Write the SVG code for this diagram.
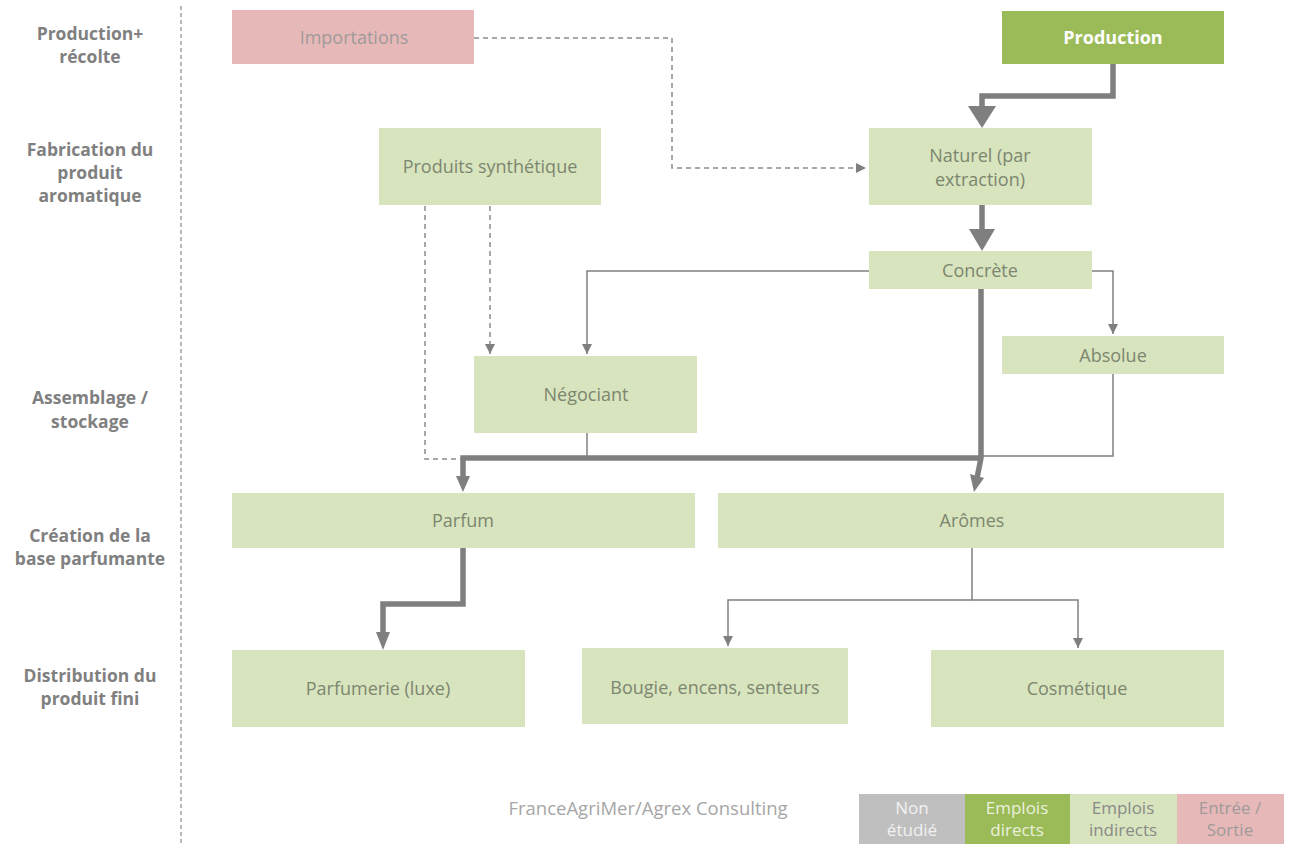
<svg xmlns="http://www.w3.org/2000/svg" width="1294" height="846" viewBox="0 0 1294 846">
<defs>
<style>
.lbl{font-family:"Open Sans","Liberation Sans",sans-serif;font-weight:bold;font-size:17.5px;fill:#808080;text-anchor:middle}
.g{fill:#d7e4bd}
.pk{fill:#e6b9b8}
.dg{fill:#9bbb59}
.gr{fill:#bfbfbf}
.t{font-family:"Open Sans","Liberation Sans",sans-serif;font-size:18px;fill:#7d8670;text-anchor:middle}
.tw{font-family:"Open Sans","Liberation Sans",sans-serif;font-size:18px;font-weight:bold;fill:#ffffff;text-anchor:middle}
.lg{font-family:"Open Sans","Liberation Sans",sans-serif;font-size:17px;text-anchor:middle}
.thin{fill:none;stroke:#808080;stroke-width:1.5}
.dash{fill:none;stroke:#8c8c8c;stroke-width:1.5;stroke-dasharray:5 4}
.thick{fill:none;stroke:#7f7f7f;stroke-width:5.5}
</style>
<marker id="ah" viewBox="0 0 10 10" refX="10" refY="5" markerWidth="10" markerHeight="10" markerUnits="userSpaceOnUse" orient="auto"><path d="M0,0 L10,5 L0,10 z" fill="#7f7f7f"/></marker>
</defs>
<rect width="1294" height="846" fill="#ffffff"/>

<g id="stages">
<line x1="181" y1="6" x2="181" y2="846" stroke="#8c8c8c" stroke-width="1.2" stroke-dasharray="4 3"/>
<text class="lbl" x="90" y="40">Production+</text>
<text class="lbl" x="90" y="63">récolte</text>
<text class="lbl" x="90" y="156">Fabrication du</text>
<text class="lbl" x="90" y="179">produit</text>
<text class="lbl" x="90" y="202">aromatique</text>
<text class="lbl" x="90" y="404">Assemblage /</text>
<text class="lbl" x="90" y="428">stockage</text>
<text class="lbl" x="90" y="542">Création de la</text>
<text class="lbl" x="90" y="565">base parfumante</text>
<text class="lbl" x="90" y="682">Distribution du</text>
<text class="lbl" x="90" y="705">produit fini</text>
</g>

<g id="connectors">
<path class="dash" d="M474,38 H672 V168 H866" marker-end="url(#ah)"/>
<path class="thick" d="M1113,64 V96 H982 V110"/>
<path d="M968,106 L996,106 L982,128 z" fill="#7f7f7f"/>
<path class="thick" d="M982,205 V232"/>
<path d="M969,229 L995,229 L982,251 z" fill="#7f7f7f"/>
<path class="thin" d="M869,271 H587 V354" marker-end="url(#ah)"/>
<path class="thin" d="M1092,271 H1113 V334" marker-end="url(#ah)"/>
<path class="dash" d="M490,206 V354" marker-end="url(#ah)"/>
<path class="dash" d="M425,206 V459 H463"/>
<path class="thin" d="M587,433 V457"/>
<path class="thin" d="M1113,374 V456 H981"/>
<path class="thick" d="M463,478 V458 H981"/>
<path d="M456,476 L470,476 L463,492 z" fill="#7f7f7f"/>
<path class="thick" d="M981,289 V458 L977,478"/>
<path d="M970,474 L984,478 L974,492 z" fill="#7f7f7f"/>
<path class="thick" d="M463,548 V604 H383 V634"/>
<path d="M376,632 L390,632 L383,650 z" fill="#7f7f7f"/>
<path class="thin" d="M972,548 V600 H728 V646" marker-end="url(#ah)"/>
<path class="thin" d="M972,600 H1078 V648" marker-end="url(#ah)"/>
</g>

<g id="importations"><rect class="pk" x="232" y="10" width="242" height="54"/><text class="t" x="354" y="44" style="fill:#a09a9a">Importations</text></g>
<g id="production"><rect class="dg" x="1002" y="11" width="222" height="53"/><text class="tw" x="1113" y="44">Production</text></g>
<g id="synthetique"><rect class="g" x="379" y="128" width="222" height="77"/><text class="t" x="490" y="173">Produits synthétique</text></g>
<g id="naturel"><rect class="g" x="869" y="128" width="223" height="77"/><text class="t" x="980" y="162">Naturel (par</text><text class="t" x="980" y="186">extraction)</text></g>
<g id="concrete"><rect class="g" x="869" y="251" width="223" height="38"/><text class="t" x="980" y="277">Concrète</text></g>
<g id="absolue"><rect class="g" x="1002" y="336" width="222" height="38"/><text class="t" x="1113" y="362">Absolue</text></g>
<g id="negociant"><rect class="g" x="474" y="356" width="223" height="77"/><text class="t" x="586" y="401">Négociant</text></g>
<g id="parfum"><rect class="g" x="232" y="493" width="463" height="55"/><text class="t" x="463" y="527">Parfum</text></g>
<g id="aromes"><rect class="g" x="718" y="493" width="506" height="55"/><text class="t" x="972" y="527">Arômes</text></g>
<g id="parfumerie"><rect class="g" x="232" y="650" width="293" height="77"/><text class="t" x="378" y="695">Parfumerie (luxe)</text></g>
<g id="bougie"><rect class="g" x="582" y="648" width="266" height="76"/><text class="t" x="715" y="694">Bougie, encens, senteurs</text></g>
<g id="cosmetique"><rect class="g" x="931" y="650" width="293" height="77"/><text class="t" x="1077" y="695">Cosmétique</text></g>

<g id="footer"><text class="lg" x="648" y="815" style="fill:#a6a6a6;font-size:18.5px">FranceAgriMer/Agrex Consulting</text></g>

<g id="legend">
<rect class="gr" x="859" y="794" width="106" height="50"/>
<rect class="dg" x="965" y="794" width="105" height="50"/>
<rect class="g" x="1070" y="794" width="107" height="50"/>
<rect class="pk" x="1177" y="794" width="107" height="50"/>
<text class="lg" x="912" y="814" fill="#f2f2f2">Non</text>
<text class="lg" x="912" y="836" fill="#f2f2f2">étudié</text>
<text class="lg" x="1017" y="814" fill="#eaf1dd">Emplois</text>
<text class="lg" x="1017" y="836" fill="#eaf1dd">directs</text>
<text class="lg" x="1123" y="814" fill="#8a8a8a">Emplois</text>
<text class="lg" x="1123" y="836" fill="#8a8a8a">indirects</text>
<text class="lg" x="1230" y="814" fill="#a09a9a">Entrée /</text>
<text class="lg" x="1230" y="836" fill="#a09a9a">Sortie</text>
</g>
</svg>
